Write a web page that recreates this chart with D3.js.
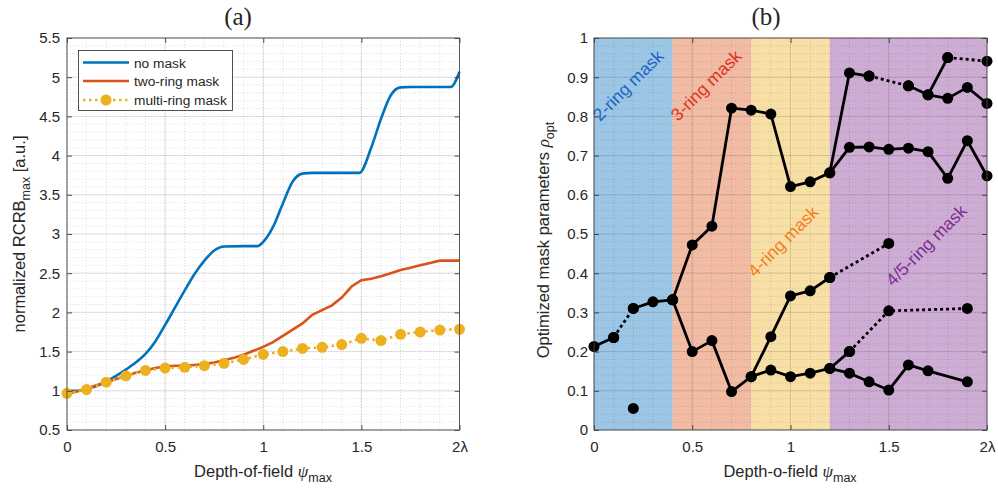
<!DOCTYPE html>
<html>
<head>
<meta charset="utf-8">
<script src="https://cdn.jsdelivr.net/npm/d3@7"></script>
<style>
  body { margin: 0; background: #fff; }
  svg text { font-family: 'Liberation Sans', Arial, sans-serif; fill: #262626; }
</style>
</head>
<body>
<script>
(function(){

// DATA

    // (a) normalized RCRB
    const noMaskX = [0, 0.05, 0.1, 0.15, 0.2, 0.25, 0.3, 0.35, 0.4, 0.45, 0.5, 0.55, 0.6, 0.65, 0.7, 0.75, 0.8,
        0.9, 0.97, 1.0, 1.05, 1.1, 1.15, 1.2, 1.25, 1.49, 1.55, 1.6, 1.65, 1.7, 1.75, 1.955, 2.0];
    const noMaskY = [1.0, 1.0, 1.02, 1.06, 1.12, 1.19, 1.27, 1.36, 1.47, 1.63, 1.84, 2.06, 2.28, 2.49, 2.66, 2.79, 2.84,
        2.845, 2.845, 2.90, 3.09, 3.39, 3.67, 3.77, 3.78, 3.78, 4.10, 4.47, 4.77, 4.87, 4.875, 4.875, 5.07];

    const twoRingX = [0, 0.05, 0.1, 0.15, 0.2, 0.25, 0.3, 0.35, 0.4, 0.45, 0.5, 0.55, 0.6, 0.65, 0.7, 0.75, 0.8,
        0.85, 0.9, 0.95, 1.0, 1.05, 1.1, 1.15, 1.2, 1.25, 1.3, 1.35, 1.4, 1.45, 1.5, 1.55, 1.6, 1.65, 1.7,
        1.75, 1.8, 1.85, 1.9, 1.95, 2.0];
    const twoRingY = [0.96, 0.99, 1.03, 1.07, 1.11, 1.15, 1.19, 1.23, 1.26, 1.29, 1.31, 1.32, 1.32, 1.33, 1.34, 1.36, 1.39,
        1.42, 1.46, 1.51, 1.56, 1.62, 1.70, 1.78, 1.86, 1.97, 2.03, 2.09, 2.19, 2.33, 2.41, 2.43, 2.46, 2.50, 2.54,
        2.57, 2.60, 2.63, 2.66, 2.66, 2.66];

    const multiRingX = [0, 0.1, 0.2, 0.3, 0.4, 0.5, 0.6, 0.7, 0.8, 0.9, 1.0, 1.1, 1.2, 1.3, 1.4, 1.5, 1.6, 1.7, 1.8, 1.9, 2.0];
    const multiRingY = [0.968, 1.015, 1.11, 1.19, 1.26, 1.29, 1.30, 1.32, 1.35, 1.40, 1.465, 1.50, 1.54, 1.555, 1.59,
        1.67, 1.64, 1.72, 1.75, 1.775, 1.785];

    const legendLabels = ['no mask', 'two-ring mask', 'multi-ring mask'];

    // (b) optimized mask parameters, each branch [psi, rho]
    const ring2a = [[0, 0.213], [0.1, 0.236]];
    const ring2gap = [[0.1, 0.236], [0.2, 0.31]];
    const ring2b = [[0.2, 0.31], [0.3, 0.327], [0.4, 0.332]];
    const upperBranch = [[0.4, 0.332], [0.5, 0.472], [0.6, 0.52], [0.7, 0.821], [0.8, 0.816], [0.9, 0.806],
        [1.0, 0.621], [1.1, 0.633], [1.2, 0.656], [1.3, 0.721], [1.4, 0.722], [1.5, 0.716], [1.6, 0.719],
        [1.7, 0.71], [1.8, 0.642], [1.9, 0.738], [2.0, 0.648]];
    const lowerBranch = [[0.4, 0.332], [0.5, 0.20], [0.6, 0.228], [0.7, 0.098], [0.8, 0.136], [0.9, 0.153],
        [1.0, 0.136], [1.1, 0.145], [1.2, 0.157], [1.3, 0.145], [1.4, 0.123], [1.5, 0.102], [1.6, 0.166],
        [1.7, 0.151], [1.9, 0.123]];
    const ring4 = [[0.8, 0.136], [0.9, 0.238], [1.0, 0.342], [1.1, 0.355], [1.2, 0.389]];
    const ring4gap = [[1.2, 0.389], [1.5, 0.476]];
    const ring5a = [[1.2, 0.157], [1.3, 0.20]];
    const ring5gap = [[1.3, 0.20], [1.5, 0.304], [1.9, 0.31]];
    const topA = [[1.2, 0.656], [1.3, 0.911], [1.4, 0.903]];
    const topGap = [[1.4, 0.903], [1.6, 0.878]];
    const topB = [[1.6, 0.878], [1.7, 0.855], [1.8, 0.846], [1.9, 0.874], [2.0, 0.833]];
    const topC = [[1.7, 0.855], [1.8, 0.95]];
    const topGap2 = [[1.8, 0.95], [2.0, 0.941]];
    const lonePoint = [[0.2, 0.055]];

    const bandEdges = [0, 0.4, 0.8, 1.2, 2.0];
    const bandLabels = ['2-ring mask', '3-ring mask', '4-ring mask', '4/5-ring mask'];

    const xTicks = [0, 0.5, 1, 1.5, 2];
    const xMinor = d3.range(0, 2.001, 0.1);
    const yTicksA = [0.5, 1, 1.5, 2, 2.5, 3, 3.5, 4, 4.5, 5, 5.5];
    const yMinorA = d3.range(0.5, 5.501, 0.1);
    const yTicksB = [0, 0.1, 0.2, 0.3, 0.4, 0.5, 0.6, 0.7, 0.8, 0.9, 1];
    const yMinorB = d3.range(0, 1.001, 0.02);


// LAYOUT

    const width = 998, height = 488;
    const top = 38, bottom = 430;
    const colors = ['#0072bd', '#d95319', '#edb120'];
    const bandColors = ['#9cc6e5', '#f1bba4', '#f7dfa5', '#cdadd3'];
    const bandTextColors = ['#1f62c4', '#e0321f', '#f47d1f', '#7b2d93'];
    const bandTextPos = [[600, 122], [678, 122], [755, 278], [893, 287]];

    const svg = d3.select('body')
        .append('svg')
        .attr('width', width)
        .attr('height', height);

    const xA = d3.scaleLinear().domain([0, 2]).range([67, 459.5]);
    const yA = d3.scaleLinear().domain([0.5, 5.5]).range([bottom, top]);
    const xB = d3.scaleLinear().domain([0, 2]).range([594, 987]);
    const yB = d3.scaleLinear().domain([0, 1]).range([bottom, top]);

    const fmtX = function(d){ return d === 2 ? '2\u03bb' : d3.format('~g')(d); };
    const fmtY = d3.format('~g');


// GRID

function drawGrid(g, x, y, xMaj, xMin, yMaj, yMin){
    const x0 = x.range()[0], x1 = x.range()[1];
    g.append('g').selectAll('line').data(xMin).enter().append('line')
        .attr('x1', d => x(d)).attr('x2', d => x(d))
        .attr('y1', top).attr('y2', bottom)
        .attr('stroke', 'rgba(38,38,38,0.25)').attr('stroke-width', 0.6)
        .attr('stroke-dasharray', '1,2');
    g.append('g').selectAll('line').data(yMin).enter().append('line')
        .attr('x1', x0).attr('x2', x1)
        .attr('y1', d => y(d)).attr('y2', d => y(d))
        .attr('stroke', 'rgba(38,38,38,0.25)').attr('stroke-width', 0.6)
        .attr('stroke-dasharray', '1,2');
    g.append('g').selectAll('line').data(xMaj).enter().append('line')
        .attr('x1', d => x(d)).attr('x2', d => x(d))
        .attr('y1', top).attr('y2', bottom)
        .attr('stroke', 'rgba(38,38,38,0.15)').attr('stroke-width', 0.8);
    g.append('g').selectAll('line').data(yMaj).enter().append('line')
        .attr('x1', x0).attr('x2', x1)
        .attr('y1', d => y(d)).attr('y2', d => y(d))
        .attr('stroke', 'rgba(38,38,38,0.15)').attr('stroke-width', 0.8);
};


// AXES

function drawAxes(g, x, y, yTicks, pad){
    const x0 = x.range()[0], x1 = x.range()[1];
    g.append('g').attr('transform', 'translate(0,' + bottom + ')')
        .call(d3.axisBottom(x).tickValues(xTicks).tickFormat(fmtX).tickSizeInner(-5).tickSizeOuter(0).tickPadding(11.5))
        .call(s => s.select('.domain').remove())
        .selectAll('text').style('font-size', '15px').style('fill', '#262626');
    g.append('g').attr('transform', 'translate(0,' + top + ')')
        .call(d3.axisTop(x).tickValues(xTicks).tickFormat('').tickSizeInner(-5).tickSizeOuter(0))
        .call(s => s.select('.domain').remove());
    g.append('g').attr('transform', 'translate(' + x0 + ',0)')
        .call(d3.axisLeft(y).tickValues(yTicks).tickFormat(fmtY).tickSizeInner(-5).tickSizeOuter(0).tickPadding(pad))
        .call(s => s.select('.domain').remove())
        .selectAll('text').style('font-size', '15px').style('fill', '#262626');
    g.append('g').attr('transform', 'translate(' + x1 + ',0)')
        .call(d3.axisRight(y).tickValues(yTicks).tickFormat('').tickSizeInner(-5).tickSizeOuter(0))
        .call(s => s.select('.domain').remove());
    g.selectAll('.tick line').attr('stroke', '#262626').attr('stroke-width', 0.8);
    g.append('rect')
        .attr('x', x0).attr('y', top)
        .attr('width', x1 - x0).attr('height', bottom - top)
        .attr('fill', 'none').attr('stroke', '#4a4a4a').attr('stroke-width', 0.9);
};

function xLabel(g, cx, text){
    const t = g.append('text')
        .attr('x', cx).attr('y', 476.5)
        .attr('text-anchor', 'middle')
        .style('font-size', '16.5px');
    t.append('tspan').text(text + ' ');
    t.append('tspan').text('\u03c8')
        .style('font-family', "'Liberation Serif', serif").style('font-style', 'italic').style('font-size', '17px');
    t.append('tspan').text('max').attr('dy', 5).style('font-size', '12.5px');
};


// PANEL (a)

    const gA = svg.append('g');
    drawGrid(gA, xA, yA, xTicks, xMinor, yTicksA, yMinorA);

    const line = d3.line().x(d => xA(d[0])).y(d => yA(d[1]));
    const noMask = d3.zip(noMaskX, noMaskY);
    const twoRing = d3.zip(twoRingX, twoRingY);
    const multiRing = d3.zip(multiRingX, multiRingY);

    gA.append('path').datum(noMask)
        .attr('d', line.curve(d3.curveMonotoneX))
        .attr('fill', 'none').attr('stroke', colors[0]).attr('stroke-width', 2.6);
    gA.append('path').datum(twoRing)
        .attr('d', line.curve(d3.curveLinear))
        .attr('fill', 'none').attr('stroke', colors[1]).attr('stroke-width', 2.6);
    gA.append('path').datum(multiRing)
        .attr('d', line)
        .attr('fill', 'none').attr('stroke', colors[2]).attr('stroke-width', 2.6)
        .attr('stroke-dasharray', '2.5,3.5');
    gA.selectAll('.mdot').data(multiRing).enter().append('circle')
        .attr('class', 'mdot')
        .attr('cx', d => xA(d[0])).attr('cy', d => yA(d[1]))
        .attr('r', 5.5).attr('fill', colors[2]);

    drawAxes(gA, xA, yA, yTicksA, 7);

    // legend
    const legend = gA.append('g');
    legend.append('rect')
        .attr('x', 78.5).attr('y', 50.5).attr('width', 154).attr('height', 60)
        .attr('fill', '#fff').attr('stroke', '#262626').attr('stroke-width', 0.8);
    legendLabels.forEach(function(lab, i){
        const ly = [62.5, 81, 100][i];
        legend.append('line')
            .attr('x1', 83).attr('x2', 129).attr('y1', ly).attr('y2', ly)
            .attr('stroke', colors[i]).attr('stroke-width', 2.6)
            .attr('stroke-dasharray', i === 2 ? '2.5,3.5' : null);
        if (i === 2){
            legend.append('circle').attr('cx', 106).attr('cy', ly).attr('r', 5.5).attr('fill', colors[i]);
        }
        legend.append('text')
            .attr('x', 134).attr('y', ly + 5)
            .style('font-size', '13.7px')
            .text(lab);
    });

    gA.append('text')
        .attr('x', 238).attr('y', 25)
        .attr('text-anchor', 'middle')
        .style('font-family', "'Liberation Serif', serif").style('font-size', '25px')
        .text('(a)');

    const ylabA = gA.append('text')
        .attr('transform', 'translate(25,' + (top + bottom) / 2 + ') rotate(-90)')
        .attr('text-anchor', 'middle')
        .style('font-size', '16.5px');
    ylabA.append('tspan').text('normalized RCRB');
    ylabA.append('tspan').text('max').attr('dy', 5).style('font-size', '12.5px');
    ylabA.append('tspan').text(' [a.u.]').attr('dy', -5);

    xLabel(gA, 263, 'Depth-of-field');


// PANEL (b)

    const gB = svg.append('g');
    gB.selectAll('.band').data(bandColors).enter().append('rect')
        .attr('class', 'band')
        .attr('x', (d, i) => xB(bandEdges[i]))
        .attr('width', (d, i) => xB(bandEdges[i + 1]) - xB(bandEdges[i]))
        .attr('y', top).attr('height', bottom - top)
        .attr('fill', d => d);

    drawGrid(gB, xB, yB, xTicks, xMinor, yTicksB, yMinorB);

    gB.selectAll('.bandlabel').data(bandLabels).enter().append('text')
        .attr('class', 'bandlabel')
        .attr('transform', (d, i) => 'translate(' + bandTextPos[i][0] + ',' + bandTextPos[i][1] + ') rotate(-45)')
        .style('font-size', '17.5px')
        .style('fill', (d, i) => bandTextColors[i])
        .text(d => d);

    const lineB = d3.line().x(d => xB(d[0])).y(d => yB(d[1]));
    const solid = [ring2a, ring2b, upperBranch, lowerBranch, ring4, ring5a, topA, topB, topC];
    const dotted = [ring2gap, ring4gap, ring5gap, topGap, topGap2];

    gB.selectAll('.solid').data(solid).enter().append('path')
        .attr('class', 'solid')
        .attr('d', lineB)
        .attr('fill', 'none').attr('stroke', '#000').attr('stroke-width', 2.8)
        .attr('stroke-linejoin', 'round');
    gB.selectAll('.dotted').data(dotted).enter().append('path')
        .attr('class', 'dotted')
        .attr('d', lineB)
        .attr('fill', 'none').attr('stroke', '#000').attr('stroke-width', 2.8)
        .attr('stroke-dasharray', '3,3');

    const allPoints = [].concat(solid, dotted, [lonePoint]).flat();
    gB.selectAll('.pt').data(allPoints).enter().append('circle')
        .attr('class', 'pt')
        .attr('cx', d => xB(d[0])).attr('cy', d => yB(d[1]))
        .attr('r', 5.5).attr('fill', '#000');

    drawAxes(gB, xB, yB, yTicksB, 6);

    gB.append('text')
        .attr('x', 766).attr('y', 25)
        .attr('text-anchor', 'middle')
        .style('font-family', "'Liberation Serif', serif").style('font-size', '25px')
        .text('(b)');

    const ylabB = gB.append('text')
        .attr('transform', 'translate(549,' + ((top + bottom) / 2 + 6) + ') rotate(-90)')
        .attr('text-anchor', 'middle')
        .style('font-size', '16.5px');
    ylabB.append('tspan').text('Optimized mask parameters ');
    ylabB.append('tspan').text('\u03c1')
        .style('font-family', "'Liberation Serif', serif").style('font-style', 'italic').style('font-size', '17px');
    ylabB.append('tspan').text('opt').attr('dy', 5).style('font-size', '12.5px');

    xLabel(gB, 790, 'Depth-o-field');

})();
</script>
</body>
</html>
